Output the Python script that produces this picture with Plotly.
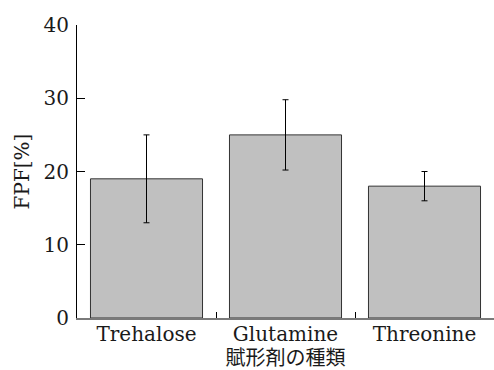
import plotly.graph_objects as go

# Excipient types and their fine particle fraction (mean ± SD)
excipients = ["Trehalose", "Glutamine", "Threonine"]
fpf_mean = [19, 25, 18]
fpf_sd = [6, 4.8, 2]

y_ticks = [0, 10, 20, 30, 40]

serif = "DejaVu Serif, Noto Sans CJK JP, serif"

fig = go.Figure(
    go.Bar(
        x=excipients,
        y=fpf_mean,
        marker=dict(color="#c0c0c0", line=dict(color="#333333", width=1)),
        error_y=dict(type="data", array=fpf_sd, visible=True,
                     color="black", thickness=1, width=3),
    )
)

fig.update_layout(
    width=494,
    height=370,
    margin=dict(l=77, r=0, t=25, b=52),
    paper_bgcolor="white",
    plot_bgcolor="white",
    bargap=0.194,
    showlegend=False,
    font=dict(family=serif, size=20, color="#1a1a1a"),
)

fig.update_xaxes(
    range=[-0.5, 2.5],
    showline=True, linecolor="#7a7a7a", linewidth=1.5,
    ticks="inside", tickson="boundaries", ticklen=6, tickcolor="black", tickwidth=1,
    showgrid=False, zeroline=False,
    tickfont=dict(family=serif, size=20),
    ticklabelstandoff=-3,
    title=dict(text="賦形剤の種類", font=dict(family=serif, size=20), standoff=2),
)

fig.update_yaxes(
    range=[0, 40],
    tickvals=y_ticks,
    showline=True, linecolor="black", linewidth=1,
    ticks="inside", ticklen=8, tickcolor="black", tickwidth=1,
    showgrid=False, zeroline=False,
    tickfont=dict(family=serif, size=20),
    ticklabelstandoff=3,
    title=dict(text="FPF[%]", font=dict(family=serif, size=20), standoff=8),
)

fig.write_html("out.html")
